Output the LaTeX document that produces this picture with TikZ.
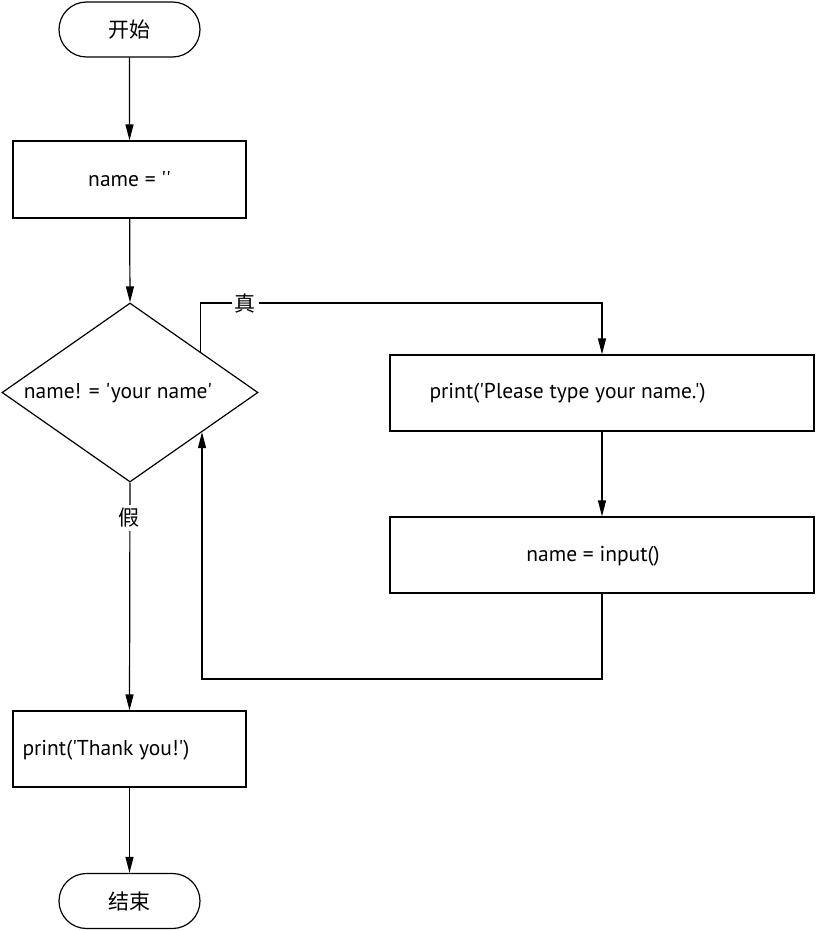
\documentclass[tikz,border=0pt]{standalone}
\usepackage{fontspec}
\usetikzlibrary{shapes.geometric,shapes.misc,arrows.meta,calc}
\newfontfamily\uifont{PT Sans}
\newfontfamily\cjk{Noto Sans CJK SC}
\begin{document}
\begin{tikzpicture}[x=1pt,y=-1pt,
  every node/.style={font=\uifont\fontsize{21.5}{24}\selectfont},
  line/.style={line width=1.2pt},
  arr/.style={line width=1.2pt,-{Triangle[length=16pt,width=8pt]}},
  pill/.style={draw,line width=1.2pt,rounded rectangle,minimum width=141pt,minimum height=55pt,inner sep=0pt},
  procbox/.style={draw,line width=1.2pt,rectangle,inner sep=0pt},
  decis/.style={draw,line width=1.2pt,diamond,inner sep=0pt,minimum width=256pt,minimum height=179pt},
  lbl/.style={fill=white,inner sep=3pt,font=\cjk\fontsize{21}{24}\selectfont}]
\useasboundingbox (0,0) rectangle (815,931);
% nodes
\node[pill,font=\cjk\fontsize{21}{24}\selectfont] (start) at (129.5,29.5) {开始};
\node[procbox,minimum width=233pt,minimum height=77pt] (init) at (129.5,179.5) {name = ''};
\node[decis] (cond) at (130,392.5) {};
\node (condtxt) at (118,393) {name! = 'your name'};
\node[procbox,minimum width=424pt,minimum height=76pt] (pr) at (602,393) {};
\node[anchor=west] (prtxt) at (426,393) {print('Please type your name.')};
\node[procbox,minimum width=424pt,minimum height=76pt] (inp) at (602,555) {};
\node (inptxt) at (593,556) {name = input()};
\node[procbox,minimum width=233pt,minimum height=76pt] (thx) at (129.5,749) {};
\node[anchor=west] (thxtxt) at (19,750) {print('Thank you!')};
\node[pill,font=\cjk\fontsize{21}{24}\selectfont] (stop) at (129.5,901) {结束};
% connectors
\draw[arr] (start) -- (init);
\draw[arr] (init) -- (cond.north);
\coordinate (tstart) at ($(cond.north)!0.55!(cond.east)$);
\coordinate (fend) at ($(cond.east)!0.44!(cond.south)$);
\draw[arr] (tstart) |- (602,303) -- (pr.north);
\node[lbl] (tl) at (245,303) {真};
\draw[arr] (pr.south) -- (inp.north);
\draw[arr] (inp.south) -- (602,679) -| (fend);
\draw[arr] (cond.south) -- (thx.north);
\node[lbl] (fl) at (129,518) {假};
\draw[arr] (thx) -- (stop);
\end{tikzpicture}
\end{document}
